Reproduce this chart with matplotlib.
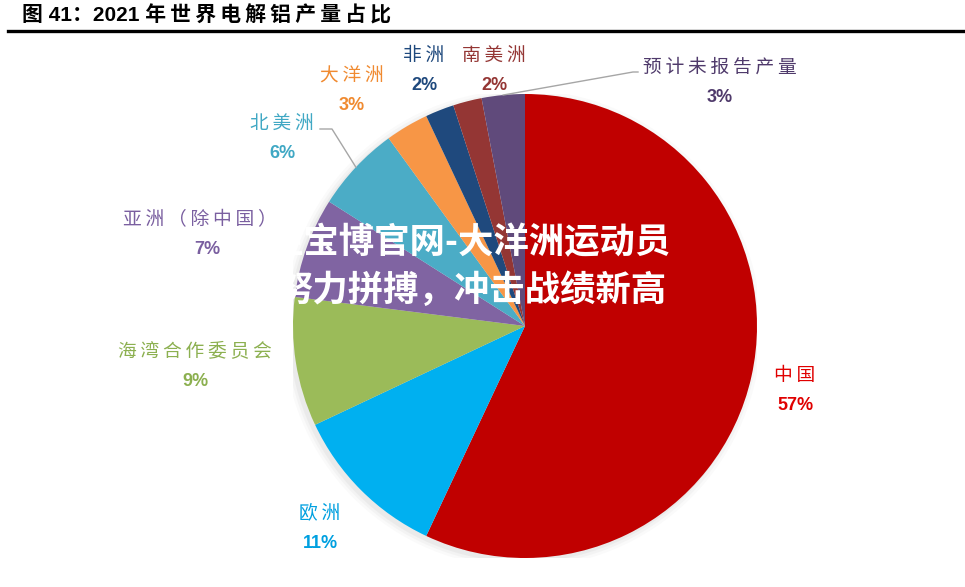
import matplotlib
matplotlib.use("Agg")
from matplotlib import pyplot as plt
from matplotlib.patches import Circle
import numpy as np

plt.rcParams['font.family'] = ['Noto Sans CJK SC', 'DejaVu Sans']

# data
regions = ["中国", "欧洲", "海湾合作委员会", "亚洲（除中国）", "北美洲",
           "大洋洲", "非洲", "南美洲", "预计未报告产量"]
shares = [57, 11, 9, 7, 6, 3, 2, 2, 3]
colors = ["#C00000", "#00B0F0", "#9BBB59", "#8064A2", "#4BACC6",
          "#F79646", "#1F497D", "#943634", "#604A7B"]
label_colors = ["#E00000", "#00A0E0", "#8CB050", "#7A5FA0", "#40A8C4",
                "#F08A30", "#1F497D", "#943634", "#4F3A6B"]

W, H = 965, 587
fig = plt.figure(figsize=(W / 100, H / 100), dpi=100)

def fx(px):
    return px / W

def fy(py):
    return 1 - py / H

def spaced(s):
    # a thin space between consecutive CJK characters, like the source's tracking
    out = ""
    for i, ch in enumerate(s):
        out += ch
        if i + 1 < len(s) and ord(ch) > 0x2E80 and ord(s[i + 1]) > 0x2E80:
            out += "\u2009"
    return out

# pie axes: centre (525, 326), radius 232 px
cx, cy, r = 525, 326, 232
ax = fig.add_axes([fx(cx - r), fy(cy + r), 2 * r / W, 2 * r / H])

# soft shadow
for k, a in enumerate([0.04, 0.05, 0.07]):
    ax.add_patch(Circle((-0.012, -0.012), 1.03 - 0.012 * k, color='#808080',
                        alpha=a, lw=0, zorder=0))

wedges, _ = ax.pie(shares, colors=colors, startangle=90, counterclock=False,
                   radius=1, wedgeprops=dict(linewidth=0, zorder=2))
ax.set_xlim(-1, 1)
ax.set_ylim(-1, 1)
ax.set_aspect('equal')
ax.axis('off')

# label positions (pixel centres of name line) and the percentage line below
label_pos = [(795, 375), (320, 513), (195, 352), (200, 220), (282, 123),
             (352, 75), (424, 55), (494, 55), (720, 67)]
pct_dx = [0, 0, 0, 7, 0, 0, 0, 0, 0]

for i, name in enumerate(regions):
    x, y = label_pos[i]
    fig.text(fx(x), fy(y), spaced(name), ha='center', va='center', fontsize=13.5,
             fontweight='medium', color=label_colors[i])
    fig.text(fx(x + pct_dx[i]), fy(y + 30), f"{shares[i]}%", ha='center',
             va='center', fontsize=13, fontweight='bold', color=label_colors[i],
             family=['Liberation Sans', 'DejaVu Sans'])

# leader lines for 北美洲 and 预计未报告产量
def edge_point(w):
    mid = np.deg2rad((w.theta1 + w.theta2) / 2)
    return np.cos(mid), np.sin(mid)

def to_data(px, py):
    return (px - cx) / r, (cy - py) / r

for idx, knee, end in [(4, (332, 129), (320, 129)), (8, (633, 72), (638, 72))]:
    ex, ey = edge_point(wedges[idx])
    kx, ky = to_data(*knee)
    tx, ty = to_data(*end)
    ax.plot([ex, kx, tx], [ey, ky, ty], color='#A6A6A6', lw=1, zorder=3,
            clip_on=False)

# title and rule
fig.text(fx(22), fy(15), spaced("图 41：2021 年世界电解铝产量占比"), ha='left',
         va='center', fontsize=15, fontweight='bold', color='black',
         family=['Liberation Sans', 'Noto Sans CJK SC', 'DejaVu Sans'])
fig.add_artist(plt.Line2D([fx(8), 1], [fy(31), fy(31)], color='black', lw=2.4))

# overlay text
fig.text(fx(268), fy(243), "金宝博官网-大洋洲运动员", ha='left', va='center',
         fontsize=25.5, fontweight='bold', color='white', zorder=10)
fig.text(fx(278), fy(290), "努力拼搏，冲击战绩新高", ha='left', va='center',
         fontsize=25.5, fontweight='bold', color='white', zorder=10)

fig.savefig("out.png", dpi=100, facecolor='white')
